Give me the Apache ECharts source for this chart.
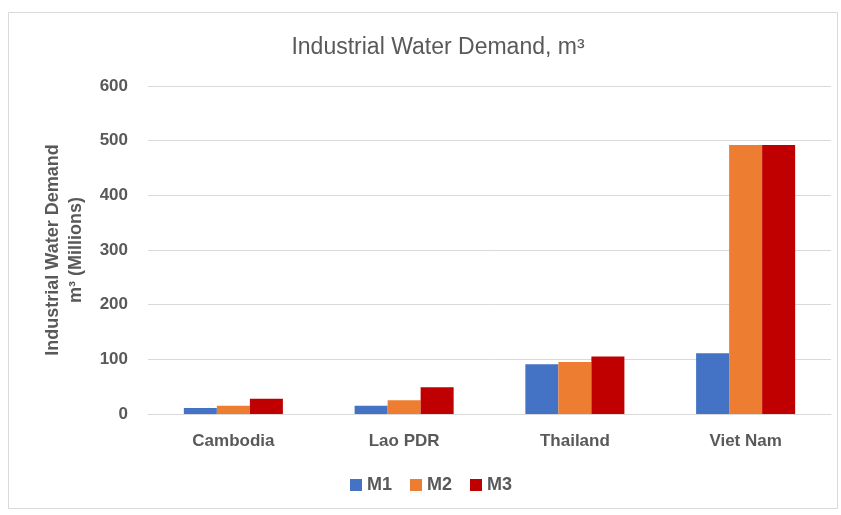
<!DOCTYPE html>
<html><head><meta charset="utf-8">
<script src="https://cdn.jsdelivr.net/npm/echarts@6/dist/echarts.min.js"></script>
<style>html,body{margin:0;padding:0;background:#fff}#c{width:841px;height:515px}</style>
</head><body><div id="c"></div>
<script>
const categories = ['Cambodia', 'Lao PDR', 'Thailand', 'Viet Nam'];
const seriesNames = ['M1', 'M2', 'M3'];
const m1 = [11, 15, 91, 111];
const m2 = [15, 25, 95, 492];
const m3 = [28, 49, 105, 492];
const colors = ['#4472C4', '#ED7D31', '#C00000'];
const yTicks = [0, 100, 200, 300, 400, 500, 600];

const chart = echarts.init(document.getElementById('c'), null, {renderer: 'canvas'});
const font = 'Liberation Sans, Arial, sans-serif';
const txt = '#595959';
chart.setOption({
  animation: false,
  backgroundColor: '#fff',
  graphic: [{type: 'rect', shape: {x: 8.5, y: 12.5, width: 829, height: 496}, style: {fill: 'none', stroke: '#D9D9D9', lineWidth: 1}}],
  title: {
    text: 'Industrial Water Demand, m³', left: 433, top: 31, textAlign: 'center',
    textStyle: {fontFamily: font, fontSize: 23, fontWeight: 'normal', color: txt}
  },
  legend: {
    data: seriesNames, bottom: 16, left: 345, itemWidth: 12, itemHeight: 12, itemGap: 18,
    icon: 'rect',
    textStyle: {fontFamily: font, fontSize: 18, fontWeight: 'bold', color: txt, padding: [0, 0, 0, 0]}
  },
  grid: {left: 148, right: 10, top: 86, bottom: 101, containLabel: false},
  xAxis: {
    type: 'category', data: categories,
    axisLine: {lineStyle: {color: '#D9D9D9', width: 1}},
    axisTick: {show: false},
    axisLabel: {fontFamily: font, fontSize: 17, fontWeight: 'bold', color: txt, margin: 19}
  },
  yAxis: {
    type: 'value', min: yTicks[0], max: yTicks[yTicks.length - 1], interval: 100,
    name: 'Industrial Water Demand\nm³ (Millions)', nameLocation: 'middle', nameGap: 60,
    nameTextStyle: {fontFamily: font, fontSize: 18, fontWeight: 'bold', color: txt, lineHeight: 23},
    axisLine: {show: false}, axisTick: {show: false},
    axisLabel: {fontFamily: font, fontSize: 17, fontWeight: 'bold', color: txt, margin: 20},
    splitLine: {lineStyle: {color: '#D9D9D9', width: 1}}
  },
  series: [m1, m2, m3].map((d, i) => ({
    name: seriesNames[i], type: 'bar', data: d, barGap: '0%', barCategoryGap: '42%',
    itemStyle: {color: colors[i]}
  }))
});
</script></body></html>
